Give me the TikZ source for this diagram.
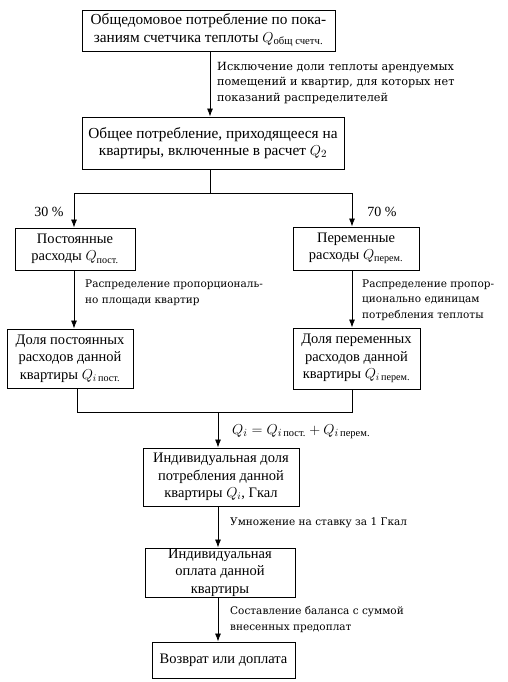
\documentclass[tikz,border=0pt]{standalone}
\usepackage{fontspec}
\usepackage{amsmath}
\setmainfont{Liberation Serif}
\newfontfamily\lblfont{DejaVu Serif}
\usetikzlibrary{arrows.meta,calc}
\begin{document}
\begin{tikzpicture}[x=1pt,y=-1pt,
 box/.style={draw, line width=0.9pt, align=center, inner sep=0pt, font=\fontsize{14.5}{17.5}\selectfont},
 bigbox/.style={box, font=\fontsize{15.3}{17.5}\selectfont},
 lbl/.style={align=left, anchor=west, inner sep=0pt, font=\lblfont\fontsize{10.5}{15.5}\selectfont},
 pct/.style={inner sep=0pt, font=\fontsize{14}{16}\selectfont},
 arr/.style={line width=0.8pt, -{Latex[length=8pt,width=6pt]}},
 ln/.style={line width=0.8pt}]
\useasboundingbox (0,0) rectangle (508,682);
% boxes
\node[bigbox, minimum width=253pt, minimum height=41pt] (b1) at (208.5,30.5)
  {Общедомовое потребление по пока-\\заниям счетчика теплоты $Q_{\text{общ счетч.}}$};
\node[bigbox, minimum width=262pt, minimum height=52pt] (b2) at (213,143)
  {Общее потребление, приходящееся на\\квартиры, включенные в расчет $Q_2$};
\node[box, minimum width=120pt, minimum height=42pt] (l1) at (75,249)
  {Постоянные\\расходы $Q_{\text{пост.}}$};
\node[box, minimum width=126pt, minimum height=43pt] (r1) at (356,248.5)
  {Переменные\\расходы $Q_{\text{перем.}}$};
\node[box, minimum width=126pt, minimum height=59pt] (l2) at (70,358.5)
  {Доля постоянных\\расходов данной\\квартиры $Q_{i\,\text{пост.}}$};
\node[box, minimum width=127pt, minimum height=61pt] (r2) at (356.5,358.5)
  {Доля переменных\\расходов данной\\квартиры $Q_{i\,\text{перем.}}$};
\node[box, minimum width=156pt, minimum height=58pt] (b5) at (221,477)
  {Индивидуальная доля\\потребления данной\\квартиры $Q_i$, Гкал};
\node[box, minimum width=150pt, minimum height=49pt] (b6) at (220,572.5)
  {Индивидуальная\\оплата данной\\квартиры};
\node[box, minimum width=143pt, minimum height=36pt] (b7) at (223.5,660)
  {Возврат или доплата};
% helper coordinates
\coordinate (xa) at (210,0);
\coordinate (xl) at (74,0);
\coordinate (xl2) at (77,0);
\coordinate (xr) at (352,0);
\coordinate (xc) at (218,0);
\coordinate (s1) at (210,193);
\coordinate (s2) at (218,412);
% connectors
\draw[arr] (b1.south -| xa) -- (b2.north -| xa);
\draw[ln] (b2.south -| xa) -- (s1);
\draw[arr] (s1) -| (l1.north -| xl);
\draw[arr] (s1) -| (r1.north -| xr);
\draw[arr] (l1.south -| xl) -- (l2.north -| xl);
\draw[arr] (r1.south -| xr) -- (r2.north -| xr);
\draw[ln] (l2.south -| xl2) |- (s2 -| xr) -- (r2.south -| xr);
\draw[arr] (s2) -- (b5.north -| xc);
\draw[arr] (b5.south -| xc) -- (b6.north -| xc);
\draw[arr] (b6.south -| xc) -- (b7.north -| xc);
% labels
\node[lbl, font=\lblfont\fontsize{11.25}{15.5}\selectfont] (t1) at (217,83) {Исключение доли теплоты арендуемых\\помещений и квартир, для которых нет\\показаний распределителей};
\node[pct] (p30) at (49,212) {30 \%};
\node[pct] (p70) at (382,212) {70 \%};
\node[lbl] (t2) at (85,293) {Распределение пропорциональ-\\но площади квартир};
\node[lbl] (t3) at (362,300) {Распределение пропор-\\ционально единицам\\потребления теплоты};
\node[inner sep=0pt, anchor=west, font=\fontsize{15}{17}\selectfont] (f1) at (232,432)
  {$Q_i = Q_{i\,\text{пост.}} + Q_{i\,\text{перем.}}$};
\node[lbl] (t4) at (230,523) {Умножение на ставку за 1 Гкал};
\node[lbl] (t5) at (230,619.5) {Составление баланса с суммой\\внесенных предоплат};
\end{tikzpicture}
\end{document}
